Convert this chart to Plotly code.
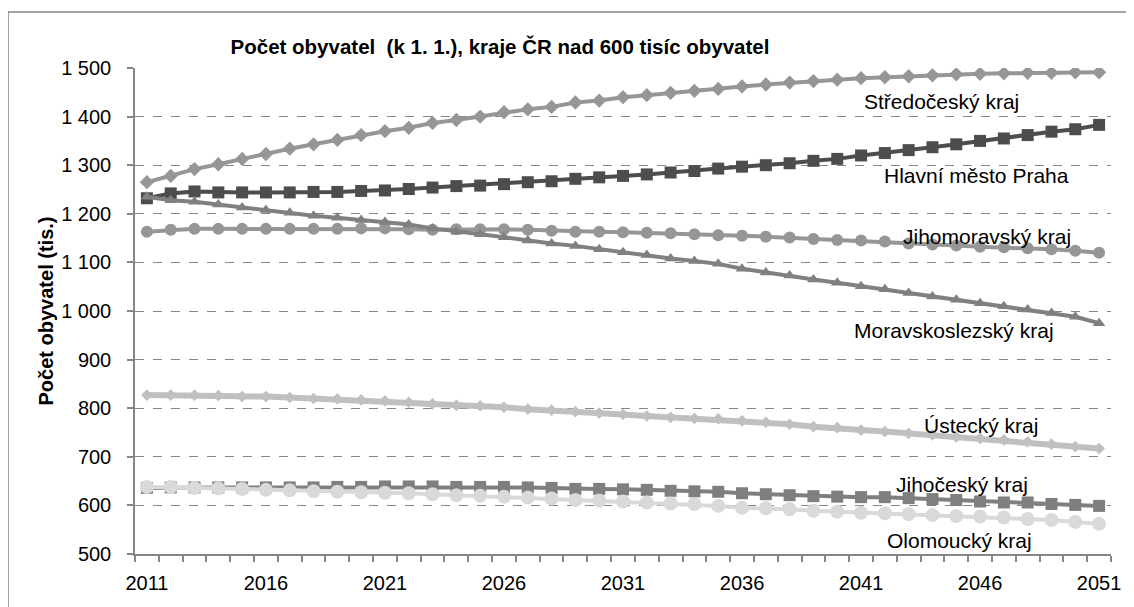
import plotly.graph_objects as go

years = list(range(2011, 2052))

stredocesky = [1265, 1278, 1292, 1302, 1313, 1323, 1334, 1343, 1352, 1362,
               1370, 1377, 1387, 1393, 1400, 1409, 1415, 1420, 1429, 1433,
               1440, 1444, 1449, 1453, 1457, 1462, 1466, 1470, 1473, 1476,
               1479, 1481, 1483, 1485, 1487, 1488, 1489, 1490, 1490, 1491, 1491]
praha = [1232, 1242, 1246, 1244, 1244, 1244, 1244, 1245, 1245, 1247,
         1248, 1251, 1254, 1257, 1258, 1261, 1265, 1267, 1272, 1275,
         1278, 1281, 1285, 1288, 1293, 1297, 1300, 1304, 1309, 1313,
         1320, 1325, 1331, 1337, 1343, 1350, 1355, 1362, 1369, 1374, 1383]
jihomoravsky = [1163, 1167, 1169, 1169, 1169, 1169, 1169, 1169, 1169, 1170,
                1170, 1168, 1167, 1168, 1168, 1168, 1167, 1165, 1163, 1163,
                1162, 1161, 1160, 1158, 1156, 1155, 1153, 1151, 1148, 1146,
                1145, 1143, 1139, 1137, 1135, 1132, 1131, 1129, 1127, 1124, 1120]
moravskoslezsky = [1235, 1228, 1225, 1219, 1213, 1208, 1202, 1196, 1192, 1187,
                   1183, 1178, 1170, 1163, 1158, 1152, 1145, 1139, 1134, 1127,
                   1121, 1115, 1108, 1103, 1097, 1087, 1079, 1073, 1065, 1058,
                   1051, 1045, 1037, 1030, 1023, 1016, 1010, 1003, 996, 988, 975]
ustecky = [827, 827, 827, 826, 824, 824, 822, 820, 819, 817,
           815, 812, 809, 806, 805, 802, 798, 796, 793, 790,
           787, 784, 781, 779, 778, 774, 771, 767, 762, 760,
           755, 752, 748, 745, 741, 738, 735, 731, 726, 721, 717]
jihocesky = [636, 637, 637, 637, 637, 637, 637, 637, 638, 638,
             639, 639, 639, 638, 638, 638, 637, 636, 634, 634,
             633, 632, 630, 629, 628, 625, 623, 621, 619, 618,
             617, 617, 615, 613, 611, 608, 606, 606, 603, 601, 599]
olomoucky = [638, 638, 636, 635, 634, 632, 631, 629, 628, 627,
             626, 625, 623, 621, 620, 618, 616, 614, 611, 610,
             608, 606, 604, 603, 599, 595, 594, 592, 589, 587,
             585, 584, 582, 580, 578, 577, 575, 572, 570, 566, 562]

series_names = ["Středočeský kraj", "Hlavní město Praha", "Jihomoravský kraj",
                "Moravskoslezský kraj", "Ústecký kraj", "Jihočeský kraj", "Olomoucký kraj"]
series_values = [stredocesky, praha, jihomoravsky, moravskoslezsky, ustecky, jihocesky, olomoucky]
series_colors = ["#969696", "#4d4d4d", "#969696", "#808080", "#c0c0c0", "#7f7f7f", "#d9d9d9"]
series_symbols = ["diamond", "square", "circle", "triangle-up", "diamond", "square", "circle"]
series_msize = [11, 12, 12, 11, 9, 12, 14]
series_lw = [4, 4, 4, 4, 6, 4, 4]

label_x = [2044.4, 2045.85, 2046.3, 2044.9, 2046.05, 2045.25, 2045.15]
label_y = [1432, 1278, 1154, 959, 765, 644, 527]

# page body has an 8px margin; figure is sized so the plot lands where the reference has it
FIG_W, FIG_H = 1126, 599

fig = go.Figure()
for name, vals, col, sym, ms, lw in zip(series_names, series_values, series_colors,
                                         series_symbols, series_msize, series_lw):
    fig.add_trace(go.Scatter(
        x=years, y=vals, name=name, mode="lines+markers",
        line=dict(color=col, width=lw),
        marker=dict(symbol=sym, size=ms, color=col, line=dict(width=0)),
        showlegend=False,
    ))

for name, lx, ly in zip(series_names, label_x, label_y):
    fig.add_annotation(x=lx, y=ly, xref="x", yref="y", text=name, showarrow=False,
                       xanchor="center", yanchor="middle",
                       font=dict(family="Liberation Sans, Arial", size=21, color="#000000"))

fig.add_shape(type="rect", xref="paper", yref="paper",
              x0=-0.1301, x1=1.05, y0=-0.2, y1=1.1152,
              line=dict(color="#868686", width=1.5), fillcolor="rgba(0,0,0,0)", layer="below")

fig.update_layout(
    width=FIG_W, height=FIG_H,
    margin=dict(l=127, r=23, t=60, b=53),
    paper_bgcolor="white", plot_bgcolor="white",
    separators=", ",
    font=dict(family="Liberation Sans, Arial", size=20, color="#000000"),
    title=dict(text="<b>Počet obyvatel  (k 1. 1.), kraje ČR nad 600 tisíc obyvatel</b>",
               x=492 / FIG_W, xanchor="center", xref="container",
               y=1 - 39 / FIG_H, yanchor="middle", yref="container",
               font=dict(family="Liberation Sans, Arial", size=20.5, color="#000000")),
    xaxis=dict(
        range=[2010.5, 2051.5], tickmode="array",
        tickvals=[2011, 2016, 2021, 2026, 2031, 2036, 2041, 2046, 2051],
        ticks="", showgrid=False, zeroline=False,
        showline=True, linecolor="#868686", linewidth=1.5,
        ticklabelstandoff=10,
        tickfont=dict(size=20),
        minor=dict(ticks="outside", tick0=2010.5, dtick=1, ticklen=6,
                   tickcolor="#868686", tickwidth=1.5, showgrid=False),
    ),
    yaxis=dict(
        range=[500, 1500], dtick=100, tickformat=",d",
        ticks="outside", ticklen=6, tickcolor="#868686", tickwidth=1.5,
        showline=True, linecolor="#868686", linewidth=1.5,
        showgrid=True, gridcolor="#868686", griddash="dash", gridwidth=1,
        zeroline=False, ticklabelstandoff=12,
        tickfont=dict(size=20),
        title=dict(text="<b>Počet obyvatel (tis.)</b>", standoff=2,
                   font=dict(size=20)),
    ),
)

fig.write_html("out.html")
